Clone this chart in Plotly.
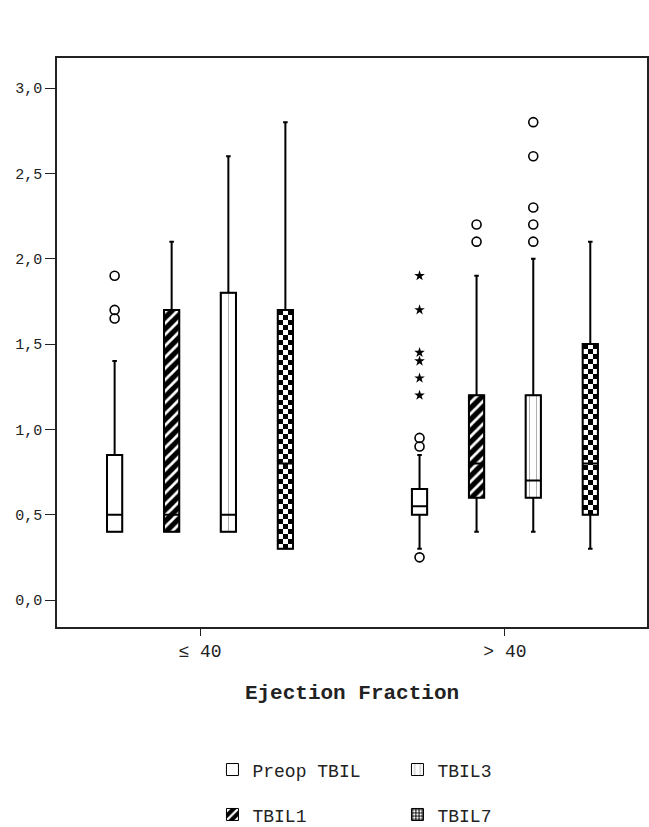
import numpy as np
import plotly.graph_objects as go

# ---- data ----
groups = ["≤ 40", "> 40"]
series = ["Preop TBIL", "TBIL1", "TBIL3", "TBIL7"]

preop_q1 = [0.40, 0.50]
preop_med = [0.50, 0.55]
preop_q3 = [0.85, 0.65]
preop_lo = [0.40, 0.30]
preop_hi = [1.40, 0.85]

tbil1_q1 = [0.40, 0.60]
tbil1_med = [0.50, 0.80]
tbil1_q3 = [1.70, 1.20]
tbil1_lo = [0.40, 0.40]
tbil1_hi = [2.10, 1.90]

tbil3_q1 = [0.40, 0.60]
tbil3_med = [0.50, 0.70]
tbil3_q3 = [1.80, 1.20]
tbil3_lo = [0.40, 0.40]
tbil3_hi = [2.60, 2.00]

tbil7_q1 = [0.30, 0.50]
tbil7_med = [0.80, 0.80]
tbil7_q3 = [1.70, 1.50]
tbil7_lo = [0.30, 0.30]
tbil7_hi = [2.80, 2.10]

# outliers: (group index, value)
preop_out_grp = [0, 0, 0, 1, 1, 1]
preop_out_val = [1.90, 1.70, 1.65, 0.95, 0.90, 0.25]
preop_ext_grp = [1, 1, 1, 1, 1, 1]
preop_ext_val = [1.90, 1.70, 1.45, 1.40, 1.30, 1.20]
tbil1_out_grp = [1, 1]
tbil1_out_val = [2.20, 2.10]
tbil3_out_grp = [1, 1, 1, 1, 1]
tbil3_out_val = [2.80, 2.60, 2.30, 2.20, 2.10]

y_tickvals = [0.0, 0.5, 1.0, 1.5, 2.0, 2.5, 3.0]
y_ticktext = ["0,0", "0,5", "1,0", "1,5", "2,0", "2,5", "3,0"]

# ---- layout constants ----
offsets = [-0.28, -0.093, 0.093, 0.28]
BW = 0.05
FONT = "Liberation Mono"

stats = {
    "Preop TBIL": (preop_q1, preop_med, preop_q3, preop_lo, preop_hi),
    "TBIL1": (tbil1_q1, tbil1_med, tbil1_q3, tbil1_lo, tbil1_hi),
    "TBIL3": (tbil3_q1, tbil3_med, tbil3_q3, tbil3_lo, tbil3_hi),
    "TBIL7": (tbil7_q1, tbil7_med, tbil7_q3, tbil7_lo, tbil7_hi),
}

fig = go.Figure()

def xpos(si, gidx):
    return [g + offsets[si] for g in gidx]

# checkerboard fill for TBIL7 (heatmap layer, drawn beneath bars)
q1, med, q3, lo, hi = stats["TBIL7"]
cell_dy = 0.0293
for g in range(len(groups)):
    n = int(round((q3[g] - q1[g]) / cell_dy))
    dy = (q3[g] - q1[g]) / n
    dx = BW / 3
    z = [[(i + j) % 2 for j in range(3)] for i in range(n)]
    fig.add_trace(go.Heatmap(
        z=z, x0=g + offsets[3] - BW / 2 + dx / 2, dx=dx,
        y0=q1[g] + dy / 2, dy=dy,
        colorscale=[[0, "white"], [1, "black"]], zmin=0, zmax=1,
        showscale=False, hoverinfo="skip", showlegend=False))

# box bodies as bars (allow fill patterns)
bar_styles = {
    "Preop TBIL": dict(color="white", pattern=dict(shape="")),
    "TBIL1": dict(color="black", pattern=dict(shape="/", fgcolor="white", bgcolor="black",
                                               size=8, solidity=0.35, fillmode="replace")),
    "TBIL3": dict(color="white", pattern=dict(shape="|", fgcolor="#b0b0b0", bgcolor="white",
                                               size=7, solidity=0.15, fillmode="replace")),
    "TBIL7": dict(color="rgba(0,0,0,0)", pattern=dict(shape="")),
}
legend_rank = {"Preop TBIL": 1, "TBIL3": 2, "TBIL1": 3, "TBIL7": 4}
legend_name = {"Preop TBIL": "legend", "TBIL3": "legend", "TBIL1": "legend2", "TBIL7": "legend2"}
for si, name in enumerate(series):
    q1, med, q3, lo, hi = stats[name]
    st = bar_styles[name]
    fig.add_trace(go.Bar(
        x=xpos(si, range(len(groups))), y=[b - a for a, b in zip(q1, q3)], base=q1,
        width=BW, name=name,
        marker=dict(color=st["color"], pattern=st["pattern"], line=dict(color="black", width=1)),
        showlegend=(name != "TBIL7"), legendrank=legend_rank[name], legend=legend_name[name],
        hoverinfo="skip"))

# legend-only swatch for TBIL7 checker
fig.add_trace(go.Bar(
    x=[None], y=[None], name="TBIL7", legendrank=4, legend="legend2",
    marker=dict(color="white", pattern=dict(shape="+", fgcolor="black", bgcolor="white",
                                           size=4, solidity=0.5, fillmode="replace"),
                line=dict(color="black", width=1))))

# whiskers, outlines, medians
for si, name in enumerate(series):
    q1, med, q3, lo, hi = stats[name]
    fig.add_trace(go.Box(
        x=xpos(si, range(len(groups))), q1=q1, median=med, q3=q3,
        lowerfence=lo, upperfence=hi, width=BW, whiskerwidth=0.3,
        fillcolor="rgba(0,0,0,0)", line=dict(color="black", width=2),
        boxpoints=False, showlegend=False, hoverinfo="skip"))

# outliers
for si, gl, vl in [(0, preop_out_grp, preop_out_val), (1, tbil1_out_grp, tbil1_out_val),
                   (2, tbil3_out_grp, tbil3_out_val)]:
    fig.add_trace(go.Scatter(
        x=xpos(si, gl), y=vl, mode="markers", showlegend=False,
        marker=dict(symbol="circle-open", size=9, color="black", line=dict(width=1.6))))
fig.add_trace(go.Scatter(
    x=xpos(0, preop_ext_grp), y=preop_ext_val, mode="markers", showlegend=False,
    marker=dict(symbol="star", size=8, color="black", line=dict(width=0))))

fig.update_layout(
    width=649, height=827,
    margin=dict(l=57, r=2, t=58, b=200, autoexpand=False),
    paper_bgcolor="white", plot_bgcolor="white",
    font=dict(family=FONT, color="#222"),
    barmode="overlay",
    xaxis=dict(range=[-0.469, 1.466], tickvals=list(range(len(groups))), ticktext=groups,
               showline=True, linecolor="#222", linewidth=1.5, mirror=True, automargin=False,
               ticks="outside", ticklen=7, tickcolor="#222", showgrid=False, zeroline=False,
               tickfont=dict(size=18, family=FONT),
               title=dict(text="<b>Ejection Fraction</b>", font=dict(size=21, family=FONT),
                          standoff=23)),
    yaxis=dict(range=[-0.158, 3.176], tickvals=y_tickvals, ticktext=y_ticktext,
               showline=True, linecolor="#222", linewidth=1.5, mirror=True, automargin=False,
               ticks="outside", ticklen=10, tickcolor="#222", showgrid=False, zeroline=False,
               tickfont=dict(size=15, family=FONT)),
    legend=dict(orientation="h", x=0.2635, y=-0.251, xanchor="left", yanchor="middle",
                font=dict(size=18, family=FONT), entrywidth=140, entrywidthmode="pixels",
                bgcolor="rgba(0,0,0,0)"),
    legend2=dict(orientation="h", x=0.2635, y=-0.33, xanchor="left", yanchor="middle",
                 font=dict(size=18, family=FONT), entrywidth=140, entrywidthmode="pixels",
                 bgcolor="rgba(0,0,0,0)"),
)

# remove the page's default body margin / scrollbars so the figure fills the window exactly
fig.write_html("out.html", config={"displayModeBar": False},
               post_script="document.body.style.margin='0';document.body.style.overflow='hidden';")
